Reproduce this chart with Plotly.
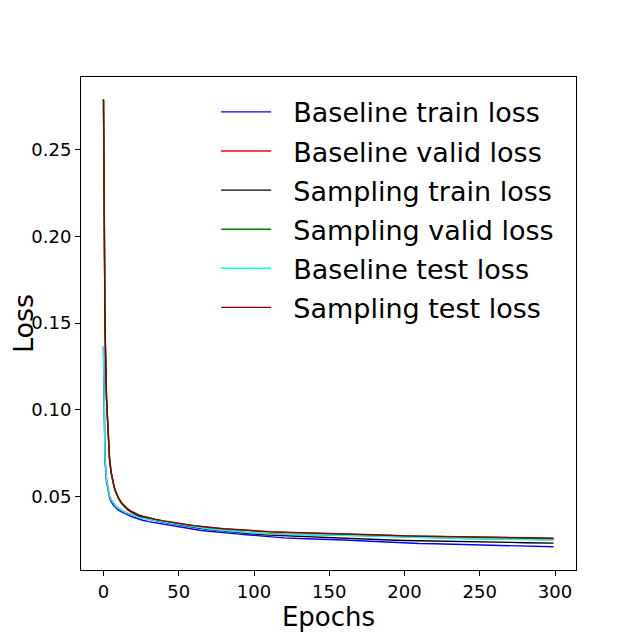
import plotly.graph_objects as go

epochs = [0, 1, 2, 3, 4, 5, 6, 7, 8, 9, 10, 12, 14, 16, 18, 20, 23, 26, 30, 35,
          40, 45, 50, 55, 60, 65, 70, 75, 80, 85, 90, 95, 100, 110, 120, 130,
          140, 150, 160, 170, 180, 190, 200, 210, 220, 230, 240, 250, 260, 270,
          280, 290, 299]

baseline_train = [0.1362, 0.0705, 0.0588, 0.0526, 0.0493, 0.0472, 0.0457, 0.0446, 0.0437, 0.0429,
                  0.0422, 0.0412, 0.0403, 0.0395, 0.0388, 0.0381, 0.0372, 0.0364, 0.0356, 0.0348,
                  0.0341, 0.0334, 0.0327, 0.0320, 0.0312, 0.0305, 0.0300, 0.0295, 0.0291, 0.0287,
                  0.0284, 0.0280, 0.0276, 0.0268, 0.0262, 0.0259, 0.0257, 0.0255, 0.0250, 0.0246,
                  0.0241, 0.0236, 0.0232, 0.0230, 0.0228, 0.0226, 0.0224, 0.0222, 0.0220, 0.0218,
                  0.0216, 0.0213, 0.0211]
baseline_valid = [0.1366, 0.0718, 0.0602, 0.0539, 0.0505, 0.0484, 0.0469, 0.0456, 0.0447, 0.0438,
                  0.0432, 0.0421, 0.0412, 0.0404, 0.0397, 0.0391, 0.0383, 0.0376, 0.0369, 0.0363,
                  0.0355, 0.0347, 0.0341, 0.0334, 0.0326, 0.0319, 0.0314, 0.0310, 0.0306, 0.0301,
                  0.0297, 0.0294, 0.0291, 0.0286, 0.0283, 0.0282, 0.0281, 0.0280, 0.0277, 0.0275,
                  0.0272, 0.0269, 0.0267, 0.0265, 0.0263, 0.0261, 0.0259, 0.0257, 0.0256, 0.0254,
                  0.0253, 0.0252, 0.0251]
sampling_train = [0.2788, 0.1470, 0.1062, 0.0845, 0.0718, 0.0641, 0.0591, 0.0556, 0.0529, 0.0506,
                  0.0488, 0.0460, 0.0440, 0.0425, 0.0413, 0.0402, 0.0390, 0.0381, 0.0371, 0.0361,
                  0.0352, 0.0344, 0.0337, 0.0330, 0.0323, 0.0316, 0.0310, 0.0305, 0.0300, 0.0295,
                  0.0290, 0.0287, 0.0284, 0.0278, 0.0274, 0.0271, 0.0268, 0.0265, 0.0261, 0.0258,
                  0.0254, 0.0250, 0.0247, 0.0246, 0.0244, 0.0243, 0.0241, 0.0240, 0.0238, 0.0236,
                  0.0234, 0.0233, 0.0232]
sampling_valid = [0.2792, 0.1475, 0.1065, 0.0848, 0.0720, 0.0643, 0.0593, 0.0559, 0.0532, 0.0509,
                  0.0491, 0.0464, 0.0444, 0.0429, 0.0417, 0.0407, 0.0395, 0.0386, 0.0377, 0.0367,
                  0.0359, 0.0351, 0.0345, 0.0338, 0.0332, 0.0326, 0.0322, 0.0318, 0.0314, 0.0311,
                  0.0308, 0.0304, 0.0302, 0.0297, 0.0294, 0.0292, 0.0290, 0.0288, 0.0285, 0.0283,
                  0.0280, 0.0276, 0.0273, 0.0272, 0.0270, 0.0268, 0.0267, 0.0265, 0.0264, 0.0263,
                  0.0261, 0.0260, 0.0259]
baseline_test = [0.1365, 0.0720, 0.0600, 0.0537, 0.0503, 0.0482, 0.0467, 0.0455, 0.0445, 0.0437,
                 0.0431, 0.0420, 0.0411, 0.0403, 0.0396, 0.0390, 0.0382, 0.0375, 0.0368, 0.0362,
                 0.0354, 0.0346, 0.0340, 0.0333, 0.0325, 0.0318, 0.0313, 0.0309, 0.0305, 0.0300,
                 0.0296, 0.0293, 0.0290, 0.0285, 0.0282, 0.0281, 0.0280, 0.0279, 0.0276, 0.0274,
                 0.0271, 0.0268, 0.0266, 0.0264, 0.0262, 0.0260, 0.0258, 0.0256, 0.0255, 0.0253,
                 0.0252, 0.0251, 0.0250]
sampling_test = [0.2790, 0.1480, 0.1070, 0.0850, 0.0722, 0.0645, 0.0595, 0.0560, 0.0533, 0.0510,
                 0.0492, 0.0465, 0.0445, 0.0430, 0.0418, 0.0408, 0.0396, 0.0387, 0.0378, 0.0368,
                 0.0360, 0.0352, 0.0346, 0.0339, 0.0333, 0.0327, 0.0323, 0.0319, 0.0315, 0.0312,
                 0.0309, 0.0305, 0.0303, 0.0298, 0.0295, 0.0293, 0.0291, 0.0289, 0.0286, 0.0284,
                 0.0281, 0.0277, 0.0274, 0.0273, 0.0271, 0.0269, 0.0268, 0.0266, 0.0265, 0.0264,
                 0.0262, 0.0261, 0.0260]

series = [
    ("Baseline train loss", baseline_train, "blue"),
    ("Baseline valid loss", baseline_valid, "red"),
    ("Sampling train loss", sampling_train, "black"),
    ("Sampling valid loss", sampling_valid, "green"),
    ("Baseline test loss", baseline_test, "cyan"),
    ("Sampling test loss", sampling_test, "darkred"),
]

fig = go.Figure()
for i, (name, values, color) in enumerate(series):
    # non-breaking spaces widen the gap between line sample and label;
    # one legendgroup per trace so tracegroupgap spreads the rows a bit
    fig.add_trace(go.Scatter(x=epochs, y=values, mode="lines",
                             name="\u00a0\u00a0" + name, legendgroup=f"g{i}",
                             line=dict(color=color, width=1.4)))

axis_style = dict(showline=True, linecolor="black", linewidth=1, mirror=True,
                  showgrid=False, zeroline=False, ticks="outside", ticklen=5,
                  tickcolor="black", tickfont=dict(size=18, color="black"),
                  automargin=False)

# the page body adds 8px, so margins are shifted to compensate
fig.update_layout(
    width=640, height=640,
    paper_bgcolor="white", plot_bgcolor="white",
    font=dict(family="DejaVu Sans", color="black"),
    margin=dict(l=73, r=72, t=69, b=78),
    xaxis=dict(title=dict(text="Epochs", font=dict(size=26), standoff=1),
               range=[-14.95, 313.95], tickvals=[0, 50, 100, 150, 200, 250, 300],
               **axis_style),
    yaxis=dict(title=dict(text="Loss", font=dict(size=27), standoff=20),
               range=[0.0077, 0.2919], tickvals=[0.05, 0.10, 0.15, 0.20, 0.25],
               tickformat=".2f", **axis_style),
    legend=dict(x=0.273, y=0.978, xanchor="left", yanchor="top",
                bgcolor="rgba(0,0,0,0)", font=dict(size=27), itemwidth=50,
                tracegroupgap=1),
)

fig.write_html("out.html")
